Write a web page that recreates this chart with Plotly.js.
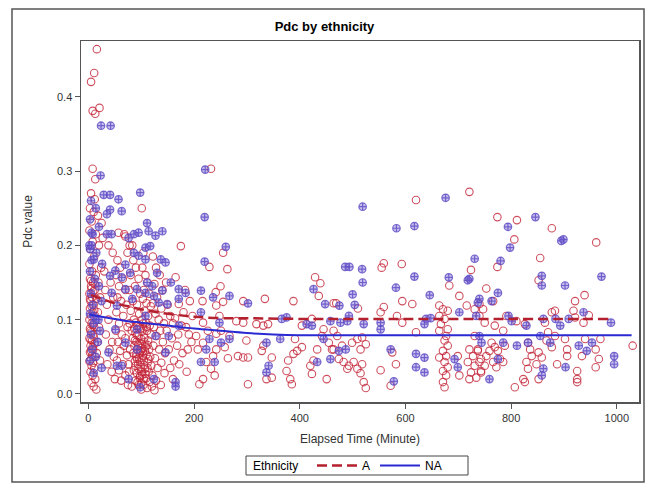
<!DOCTYPE html>
<html>
<head>
<meta charset="utf-8">
<script src="https://cdn.plot.ly/plotly-3.0.1.min.js"></script>
<style>
  html, body { margin: 0; padding: 0; background: #ffffff; }
  #chart { width: 649px; height: 485px; }
</style>
</head>
<body>
<div id="chart"></div>
<script>
// ---- Data ----
const chartTitle = "Pdc by ethnicity";
const xTitle = "Elapsed Time (Minute)";
const yTitle = "Pdc value";
const legendTitle = "Ethnicity";
const groupNames = ["A", "NA"];
const xTickVals = [0, 200, 400, 600, 800, 1000];
const yTickVals = [0.0, 0.1, 0.2, 0.3, 0.4];

// Ethnicity A observations: [elapsed minute, pdc value]
const A_points = [
  [8,0.303],[13,0.289],[5,0.27],[12,0.262],[3,0.25],[10,0.245],[18,0.24],[6,0.232],[2,0.22],[14,0.215],
  [8,0.205],[4,0.195],[11,0.185],[2,0.175],[7,0.165],[14,0.16],[3,0.155],[9,0.15],[5,0.145],[12,0.14],
  [2,0.135],[7,0.13],[15,0.128],[4,0.125],[10,0.12],[3,0.115],[8,0.11],[13,0.105],[2,0.1],[6,0.095],
  [11,0.09],[4,0.085],[9,0.08],[2,0.075],[7,0.072],[12,0.068],[4,0.065],[9,0.06],[3,0.056],[7,0.052],
  [12,0.05],[5,0.047],[2,0.044],[9,0.042],[6,0.038],[11,0.035],[4,0.03],[8,0.025],[13,0.02],[6,0.015],
  [10,0.01],[15,0.006],[16,0.464],[11,0.432],[5,0.42],[8,0.381],[13,0.377],[21,0.385],[18,0.11],[20,0.09],
  [17,0.07],[22,0.13],[19,0.15],[24,0.17],[20,0.2],[25,0.23],[27,0.21],[16,0.055],[22,0.045],
  [5,0.058],[8,0.063],[4,0.073],[10,0.077],[6,0.083],[3,0.088],[9,0.093],[5,0.105],[11,0.113],[6,0.118],
  [3,0.128],[9,0.138],[6,0.142],[12,0.148],[5,0.152],
  [32,0.14],[35,0.12],[38,0.1],[33,0.08],[45,0.07],[40,0.06],[48,0.05],[36,0.04],[44,0.03],[50,0.02],
  [42,0.15],[47,0.13],[30,0.165],[46,0.19],[38,0.2],
  [55,0.18],[60,0.17],[52,0.16],[65,0.155],[58,0.145],[70,0.14],[55,0.13],[62,0.125],[72,0.12],[53,0.11],
  [66,0.105],[58,0.095],[74,0.09],[52,0.085],[63,0.08],[70,0.075],[56,0.07],[67,0.065],[60,0.058],[73,0.052],
  [54,0.045],[65,0.04],[58,0.032],[70,0.025],[62,0.018],[75,0.012],[68,0.215],[57,0.217],[70,0.212],[74,0.19],
  [78,0.2],[83,0.2],[85,0.18],[90,0.17],[80,0.16],[95,0.155],[88,0.145],[78,0.14],[98,0.135],[84,0.125],
  [92,0.12],[80,0.112],[96,0.108],[86,0.1],[78,0.095],[93,0.092],[99,0.088],[82,0.085],[89,0.082],[95,0.078],
  [84,0.075],[91,0.07],[97,0.068],[87,0.065],[93,0.06],[99,0.058],[85,0.055],[90,0.05],[96,0.048],[88,0.044],
  [94,0.04],[99,0.036],[86,0.032],[92,0.028],[97,0.022],[89,0.018],[95,0.012],[82,0.01],[100,0.006],[76,0.04],
  [79,0.06],[77,0.03],
  [90,0.096],[96,0.09],[102,0.084],[92,0.079],[100,0.074],[106,0.07],[94,0.066],[101,0.062],[107,0.058],[97,0.055],
  [103,0.051],[92,0.047],[98,0.043],[105,0.039],[95,0.034],[101,0.03],[108,0.027],[98,0.024],[105,0.02],[93,0.016],
  [87,0.088],[104,0.095],[110,0.09],[88,0.072],[112,0.066],[91,0.054],[114,0.047],[89,0.038],[112,0.035],[100,0.015],
  [101,0.25],[104,0.19],[102,0.17],[108,0.16],[112,0.15],[105,0.14],[115,0.135],[103,0.128],[110,0.122],[118,0.118],
  [106,0.112],[113,0.105],[102,0.1],[109,0.096],[116,0.092],[104,0.088],[111,0.085],[118,0.08],[106,0.076],[113,0.072],
  [101,0.068],[108,0.064],[115,0.06],[103,0.057],[110,0.053],[117,0.05],[105,0.046],[112,0.042],[119,0.038],[107,0.034],
  [114,0.03],[102,0.026],[109,0.021],[116,0.016],[104,0.012],[111,0.008],[120,0.01],
  [122,0.185],[128,0.17],[135,0.16],[125,0.148],[140,0.14],[130,0.13],[122,0.122],[138,0.115],[127,0.108],[133,0.1],
  [143,0.095],[124,0.09],[136,0.085],[129,0.078],[141,0.07],[123,0.065],[134,0.06],[145,0.055],[126,0.048],[138,0.042],
  [131,0.035],[144,0.028],[121,0.025],[128,0.018],[137,0.012],[125,0.005],
  [150,0.12],[155,0.105],[160,0.095],[148,0.085],[165,0.157],[171,0.121],[175,0.199],[158,0.075],[168,0.065],[152,0.06],
  [180,0.11],[185,0.09],[162,0.045],[172,0.04],[190,0.08],[195,0.07],[178,0.055],[186,0.03],[155,0.035],[192,0.125],
  [160,0.02],[197,0.105],[183,0.14],[147,0.15],[188,0.06],[170,0.08],[164,0.102],[176,0.092],
  [232,0.303],[255,0.19],[229,0.171],[263,0.168],[250,0.145],[241,0.137],[216,0.125],[255,0.124],[293,0.125],[334,0.128],
  [388,0.125],[429,0.157],[439,0.149],[436,0.132],[464,0.122],[242,0.119],[217,0.096],[226,0.085],[242,0.081],[251,0.085],
  [267,0.078],[280,0.098],[293,0.096],[318,0.094],[331,0.092],[340,0.094],[299,0.072],[328,0.058],[331,0.065],[347,0.049],
  [283,0.051],[293,0.049],[302,0.049],[264,0.048],[337,0.02],[347,0.022],[302,0.013],[375,0.031],[378,0.045],[388,0.054],
  [395,0.058],[404,0.063],[382,0.02],[385,0.013],[420,0.038],[426,0.045],[423,0.027],[451,0.02],[433,0.06],[445,0.087],
  [442,0.078],[455,0.069],[461,0.06],[404,0.092],[423,0.101],[223,0.043],[232,0.034],[217,0.02],[210,0.013],[239,0.025],
  [236,0.051],[217,0.069],[242,0.06],[258,0.063],[204,0.078],[207,0.06],[248,0.105],[391,0.074],
  [620,0.261],[721,0.272],[559,0.176],[555,0.17],[593,0.175],[469,0.122],[510,0.115],[559,0.117],[613,0.121],[683,0.146],
  [724,0.167],[664,0.119],[671,0.114],[680,0.112],[664,0.105],[674,0.101],[667,0.094],[680,0.087],[664,0.085],[677,0.078],
  [674,0.072],[680,0.065],[671,0.058],[677,0.051],[664,0.049],[674,0.043],[680,0.036],[671,0.031],[677,0.025],[671,0.016],
  [674,0.009],[721,0.06],[728,0.051],[737,0.058],[718,0.043],[731,0.038],[740,0.043],[724,0.029],[734,0.022],[721,0.02],
  [743,0.029],[553,0.032],[582,0.04],[572,0.011],[575,0.056],[594,0.096],[620,0.083],[464,0.085],[471,0.078],[480,0.065],
  [499,0.069],[509,0.074],[518,0.076],[525,0.067],[515,0.06],[474,0.047],[483,0.043],[493,0.038],[502,0.043],[490,0.034],
  [509,0.034],[518,0.04],[515,0.028],[521,0.016],[525,0.008],[553,0.11],[584,0.105],[594,0.125],[702,0.132],[716,0.119],
  [731,0.114],[740,0.121],[702,0.025],[699,0.051],[731,0.078],[464,0.06],
  [774,0.238],[811,0.234],[877,0.223],[961,0.204],[806,0.208],[774,0.171],[855,0.183],[852,0.153],[753,0.142],[939,0.133],
  [921,0.125],[883,0.112],[877,0.11],[918,0.112],[921,0.103],[947,0.106],[937,0.096],[747,0.114],[766,0.125],[740,0.105],
  [750,0.096],[769,0.092],[785,0.085],[791,0.105],[810,0.098],[826,0.094],[864,0.096],[870,0.083],[883,0.078],[902,0.074],
  [940,0.074],[960,0.06],[969,0.074],[906,0.06],[906,0.051],[934,0.051],[966,0.047],[960,0.036],[925,0.031],[925,0.02],
  [925,0.016],[887,0.04],[867,0.072],[877,0.063],[852,0.056],[858,0.049],[848,0.04],[829,0.043],[832,0.034],[826,0.016],
  [807,0.009],[823,0.02],[852,0.02],[836,0.06],[839,0.051],[832,0.069],[763,0.069],[769,0.063],[775,0.058],[759,0.058],
  [753,0.051],[779,0.047],[766,0.043],[750,0.038],[743,0.031],[772,0.036],[788,0.065],[1030,0.065],[743,0.047],[785,0.043],
  [737,0.06]
];

// Ethnicity NA observations: [elapsed minute, pdc value]
const NA_points = [
  [24,0.361],[42,0.361],[23,0.294],[5,0.26],[14,0.25],[3,0.235],[20,0.225],[8,0.215],[2,0.2],[15,0.19],
  [6,0.18],[26,0.175],[3,0.165],[12,0.155],[20,0.145],[5,0.135],[25,0.125],[8,0.12],[3,0.108],[15,0.1],
  [10,0.095],[22,0.085],[5,0.08],[18,0.07],[7,0.06],[14,0.05],[3,0.045],[25,0.035],[10,0.028],
  [29,0.268],[41,0.268],[98,0.271],[57,0.262],[63,0.246],[41,0.248],[35,0.242],[35,0.215],[44,0.215],[86,0.215],
  [95,0.217],[114,0.219],[127,0.213],[140,0.219],[76,0.21],[111,0.23],[108,0.197],[117,0.199],[86,0.19],[95,0.186],
  [108,0.181],[137,0.181],[146,0.177],[70,0.174],[51,0.166],[41,0.159],[79,0.163],[63,0.157],[130,0.163],[111,0.15],
  [121,0.145],[140,0.139],[171,0.141],[184,0.136],[92,0.141],[70,0.141],[133,0.123],[149,0.121],[83,0.128],[108,0.136],
  [124,0.132],[54,0.119],[44,0.136],[156,0.15],[171,0.128],
  [51,0.087],[108,0.105],[70,0.069],[38,0.056],[54,0.038],[76,0.02],[98,0.009],[124,0.02],[92,0.06],[127,0.078],
  [146,0.056],[165,0.016],[165,0.01],[92,0.087],[19,0.1],[10,0.105],[171,0.092],[63,0.038],[152,0.078],
  [6,0.217],[3,0.195],[10,0.181],[6,0.2],
  [221,0.302],[220,0.238],[260,0.198],[220,0.178],[213,0.139],[267,0.132],[302,0.122],[375,0.103],[366,0.101],[413,0.094],
  [426,0.141],[448,0.121],[458,0.098],[236,0.13],[213,0.11],[248,0.096],[229,0.074],[251,0.069],[223,0.06],[213,0.043],
  [239,0.043],[267,0.074],[341,0.038],[337,0.029],[337,0.069],[363,0.074],[433,0.043],[458,0.047],[445,0.074],[423,0.092],
  [519,0.252],[676,0.264],[583,0.223],[617,0.226],[486,0.171],[494,0.171],[518,0.168],[519,0.15],[617,0.158],[582,0.143],
  [646,0.133],[500,0.134],[504,0.12],[682,0.157],[731,0.182],[721,0.155],[718,0.153],[620,0.054],[636,0.049],[620,0.036],
  [636,0.029],[572,0.06],[578,0.017],[493,0.105],[490,0.098],[521,0.094],[553,0.096],[553,0.087],[639,0.101],[648,0.102],
  [702,0.11],[734,0.105],[740,0.128],[475,0.119],[477,0.096],[487,0.06],[474,0.058],[693,0.047],[740,0.078],[699,0.036],
  [636,0.094],
  [846,0.238],[794,0.225],[895,0.206],[899,0.208],[798,0.197],[780,0.179],[858,0.159],[858,0.146],[902,0.146],[971,0.158],
  [775,0.136],[937,0.11],[989,0.096],[909,0.101],[861,0.101],[795,0.105],[801,0.098],[737,0.123],[763,0.125],[829,0.092],
  [893,0.092],[832,0.069],[855,0.078],[928,0.065],[943,0.058],[953,0.069],[995,0.051],[995,0.04],[861,0.034],[858,0.025],
  [903,0.036],[759,0.02],[744,0.069],[775,0.047],[785,0.069],[884,0.101],[811,0.065],[874,0.069]
];

// Fitted trend curves
const fitA_time = [5, 25, 50, 75, 100, 130, 160, 200, 250, 300, 400, 600, 800, 985];
const fitA_pdc  = [0.133, 0.128, 0.122, 0.118, 0.114, 0.110, 0.107, 0.104, 0.102, 0.102, 0.101, 0.101, 0.101, 0.101];
const fitNA_time = [2, 25, 50, 75, 100, 150, 200, 250, 300, 350, 400, 600, 800, 1028];
const fitNA_pdc  = [0.107, 0.104, 0.101, 0.098, 0.096, 0.092, 0.088, 0.085, 0.082, 0.080, 0.079, 0.079, 0.079, 0.079];

// ---- Build traces ----
const traces = [
  {
    type: "scatter", mode: "markers", name: groupNames[0], showlegend: false,
    x: A_points.map(p => p[0]), y: A_points.map(p => p[1]),
    marker: { symbol: "circle-open", size: 7.5, color: "rgba(195,35,55,0.8)", line: { width: 1.1 } },
    hoverinfo: "skip"
  },
  {
    type: "scatter", mode: "markers", name: groupNames[1], showlegend: false,
    x: NA_points.map(p => p[0]), y: NA_points.map(p => p[1]),
    marker: { symbol: "circle-cross", size: 7.5, color: "rgba(130,115,215,0.45)",
              line: { width: 1.2, color: "rgba(90,70,195,0.8)" } },
    hoverinfo: "skip"
  },
  {
    type: "scatter", mode: "lines", name: groupNames[0],
    x: fitA_time, y: fitA_pdc, line: { color: "#b4202e", width: 2.5, dash: "10px,5px", shape: "spline" }
  },
  {
    type: "scatter", mode: "lines", name: groupNames[1],
    x: fitNA_time, y: fitNA_pdc, line: { color: "#2a2ad2", width: 2, shape: "spline" }
  }
];

const plotL = 81, plotR = 639, plotT = 41, plotB = 402, W = 649, H = 485;
const pw = plotR - plotL, ph = plotB - plotT;
const px = v => (v - plotL) / pw;
const py = v => (plotB - v) / ph;

const layout = {
  width: W, height: H,
  margin: { l: plotL, r: W - plotR, t: plotT, b: H - plotB, pad: 0, autoexpand: false },
  paper_bgcolor: "#ffffff", plot_bgcolor: "#ffffff",
  font: { family: "Liberation Sans, Arial, sans-serif", size: 11, color: "#333333" },
  title: { text: "<b>" + chartTitle + "</b>", x: px(360), xanchor: "center", y: 1 - 26 / H, yanchor: "middle",
           font: { size: 13, color: "#000000" } },
  xaxis: {
    range: [-14, 1042], tickvals: xTickVals, ticks: "outside", ticklen: 5, tickcolor: "#555",
    showgrid: false, zeroline: false, showline: true, linecolor: "#555", linewidth: 1.5, mirror: true,
    tickfont: { size: 11, color: "#333" }, automargin: false,
    title: { text: xTitle, standoff: 12, font: { size: 12, color: "#333" } }
  },
  yaxis: {
    range: [-0.0108, 0.475], tickvals: yTickVals, tickformat: ".1f", ticks: "outside", ticklen: 5, tickcolor: "#555",
    showgrid: false, zeroline: false, showline: true, linecolor: "#555", linewidth: 1.5, mirror: true,
    tickfont: { size: 11, color: "#333" }, automargin: false,
    title: { text: yTitle, standoff: 22, font: { size: 12, color: "#333" } }
  },
  showlegend: true,
  legend: {
    orientation: "h", xref: "container", yref: "container",
    x: 312 / W, xanchor: "left", y: 1 - 465.5 / H, yanchor: "middle", valign: "middle",
    borderwidth: 0, bgcolor: "rgba(0,0,0,0)",
    font: { size: 12, color: "#000" }, itemwidth: 40, tracegroupgap: 0
  },
  annotations: [
    { text: legendTitle, xref: "paper", yref: "paper", x: px(251), y: py(465.5), xanchor: "left", yanchor: "middle",
      showarrow: false, font: { size: 12, color: "#000" } }
  ],
  shapes: [
    { type: "rect", xref: "paper", yref: "paper", x0: px(12), x1: px(644), y0: py(482), y1: py(9),
      line: { color: "#555", width: 1.5 }, fillcolor: "rgba(0,0,0,0)", layer: "below" },
    { type: "rect", xref: "paper", yref: "paper", x0: px(246), x1: px(468), y0: py(475), y1: py(456),
      line: { color: "#444", width: 1 }, fillcolor: "rgba(0,0,0,0)", layer: "above" }
  ]
};

Plotly.newPlot("chart", traces, layout, { displayModeBar: false, staticPlot: true });
</script>
</body>
</html>
